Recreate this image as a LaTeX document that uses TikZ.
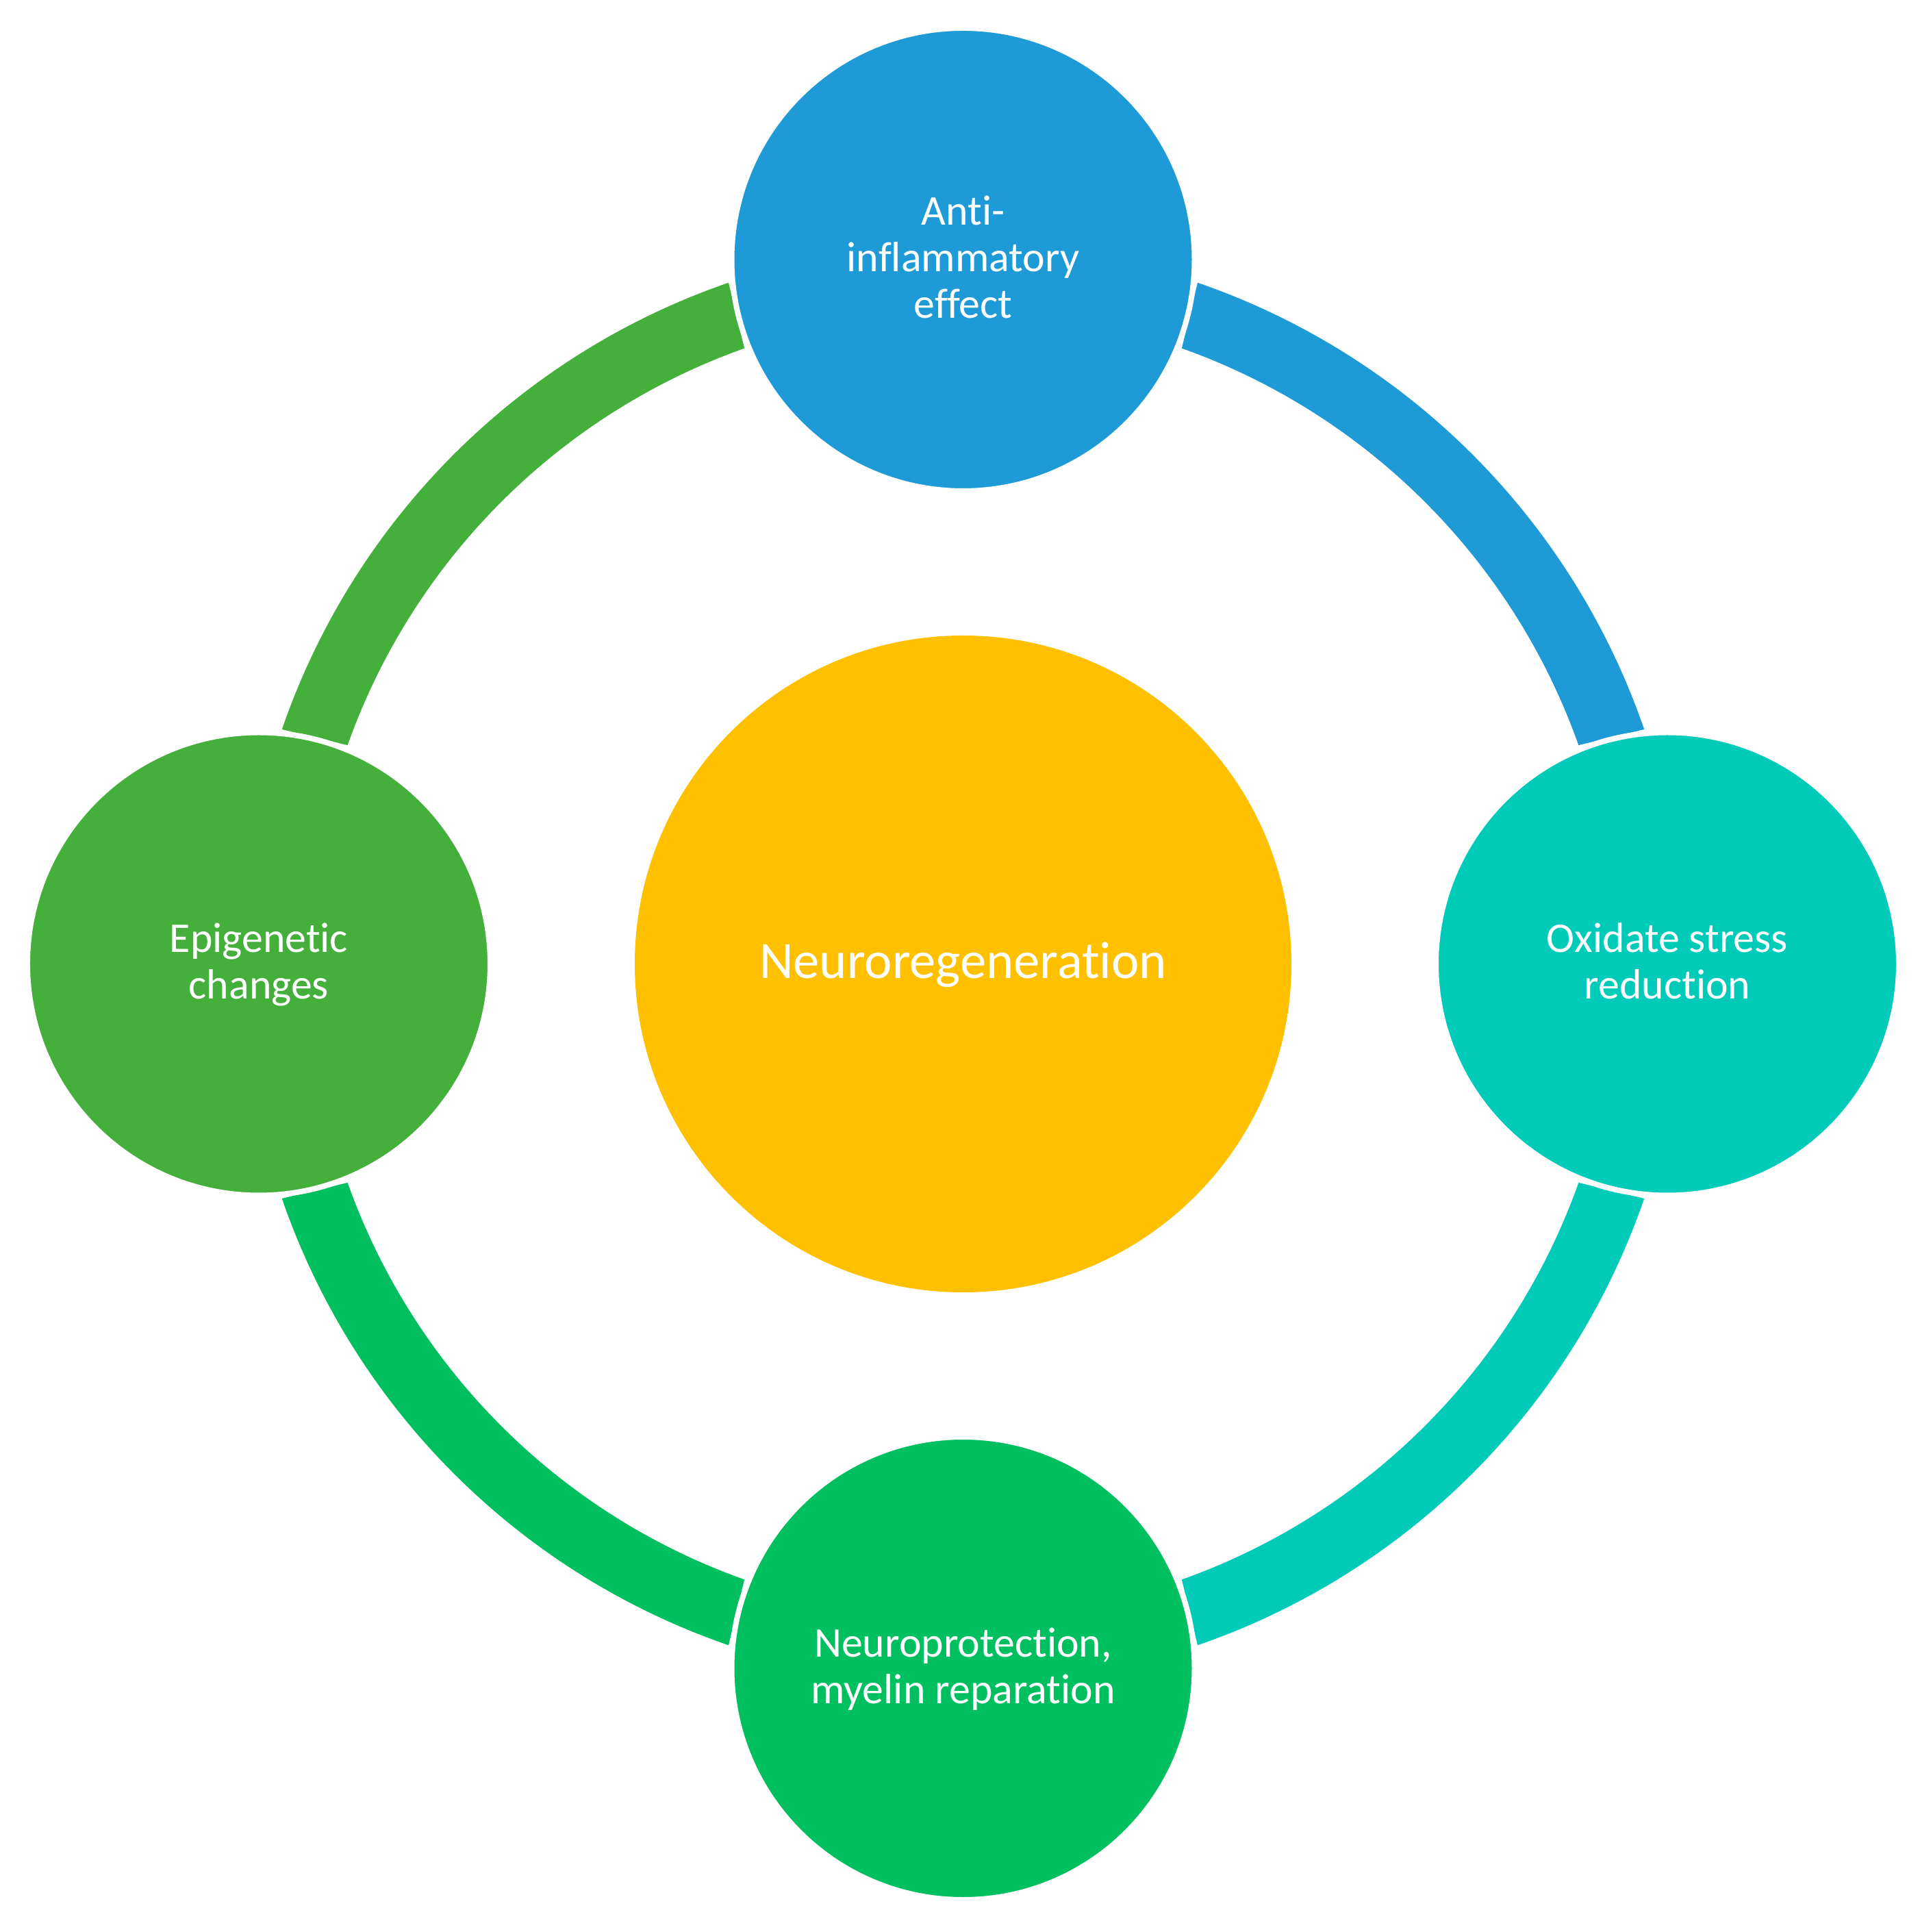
\documentclass[tikz,border=0pt]{standalone}
\usepackage{fontspec}
\setmainfont{Carlito}[Ligatures={NoCommon,NoRare}]
\usetikzlibrary{calc}
\definecolor{cblue}{HTML}{1E9BD7}
\definecolor{cteal}{HTML}{00CBB9}
\definecolor{cgreen}{HTML}{00BF5F}
\definecolor{clime}{HTML}{45AF3B}
\definecolor{cyellow}{HTML}{FFC000}
\begin{document}
\begin{tikzpicture}[
  sat/.style={circle, fill=#1, draw=white, line width=0.08cm, minimum size=6.76cm, inner sep=0pt},
  lbl/.style={text=white, font=\fontsize{17.6}{19.48}\selectfont, align=center, anchor=base, inner sep=0pt},
  biglbl/.style={text=white, font=\fontsize{21.8}{26}\selectfont, anchor=base, inner sep=0pt}]
\useasboundingbox (-14.065,-14.135) rectangle (13.965,14.075);
\coordinate (O) at (0,0);
% block arcs of the cycle
\foreach \a/\c in {0/cblue, -90/cteal, -180/cgreen, 90/clime}{
  \fill[\c] ($(O)+(\a+19:10.52)$) arc[start angle=\a+19, end angle=\a+71, radius=10.52]
    -- ($(O)+(\a+70.44:9.54)$) arc[start angle=\a+70.44, end angle=\a+19.56, radius=9.54] -- cycle;
}
% circles
\node[circle, fill=cyellow, minimum size=9.59cm, inner sep=0pt] (ccenter) at (O) {};
\node[sat=cblue] (ctop) at (0,10.285) {};
\node[sat=cteal] (cright) at (10.285,0) {};
\node[sat=cgreen] (cbottom) at (0,-10.285) {};
\node[sat=clime] (cleft) at (-10.285,0) {};
% labels (base anchor = baseline of the last line)
\node[biglbl] (tcenter) at (0,-0.215) {Neuroregeneration};
\node[lbl] (ttop) at (0,9.425) {Anti-\\inflammatory\\effect};
\node[lbl] (tright) at (10.285,-0.515) {Oxidate stress\\reduction};
\node[lbl] (tbottom) at (0,-10.80) {Neuroprotection,\\myelin reparation};
\node[lbl] (tleft) at (-10.285,-0.515) {Epigenetic\\changes};
\end{tikzpicture}
\end{document}
